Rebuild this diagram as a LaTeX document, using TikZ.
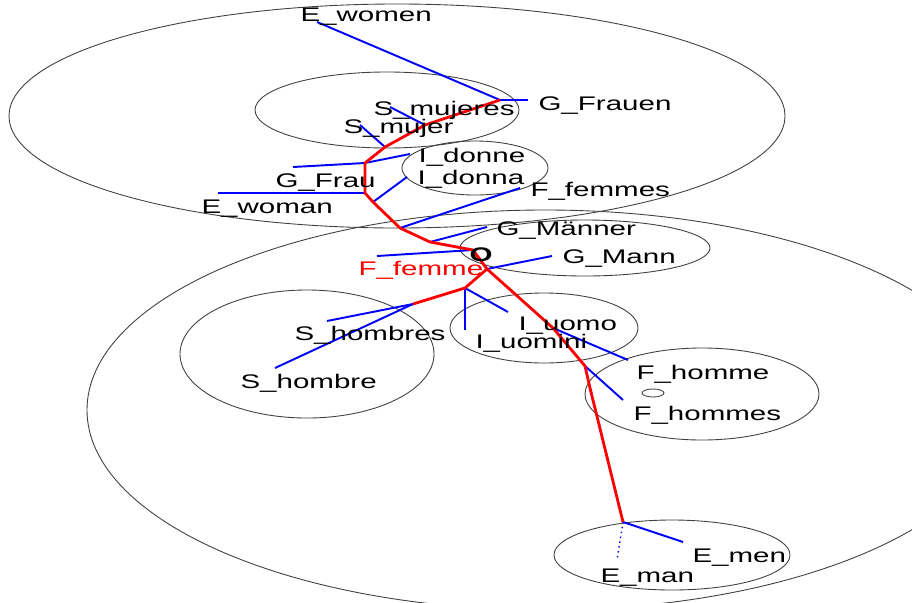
\documentclass[tikz,border=0pt]{standalone}
\usepackage{fontspec}
\setmainfont{Liberation Sans}

\begin{document}
\begin{tikzpicture}[x=0.02cm, y=-0.02cm]
                \tikzstyle{ring} = [draw=black!75, line width=0.5pt]
                \tikzstyle{redline} = [draw=red, line width=1.6pt, line join=round]
                \tikzstyle{leaf} = [draw=blue, line width=1.1pt]
                \tikzstyle{word} = [anchor=base west, inner sep=0pt, font=\fontsize{11.2}{13}\selectfont, xscale=1.5, transform shape]

                \useasboundingbox (0,0) rectangle (912,602);
                \clip (0,0) rectangle (912,602);
                \fill[white] (0,0) rectangle (912,602);

                % clusters
                \draw[ring] (397,116) ellipse (388 and 112);
                \draw[ring] (545,410) ellipse (458 and 200);
                \draw[ring] (387,110) ellipse (132 and 38);
                \draw[ring] (475,168) ellipse (73 and 27);
                \draw[ring] (585,248) ellipse (125 and 28);
                \draw[ring] (307,354) ellipse (127 and 64);
                \draw[ring] (544,328) ellipse (94 and 35);
                \draw[ring] (702,394) ellipse (117 and 46);
                \draw[ring] (653,393) ellipse (11 and 4);
                \draw[ring] (672,555) ellipse (118 and 35);

                % inner points of the tree
                \coordinate (frauen) at (500,100);
                \coordinate (mujeres) at (425,125);
                \coordinate (mujer) at (385,147);
                \coordinate (frau) at (365,163);
                \coordinate (woman) at (365,193);
                \coordinate (donna) at (373,202);
                \coordinate (femmes) at (400,228);
                \coordinate (maenner) at (430,242);
                \coordinate (root) at (473,250);
                \coordinate (mann) at (487,269);
                \coordinate (uomo) at (465,288);
                \coordinate (hombre) at (413,304);
                \coordinate (homme) at (553,328);
                \coordinate (hommes) at (585,366);
                \coordinate (bend) at (590,388);
                \coordinate (men) at (623,522);

                % tips
                \coordinate (t-ewomen) at (317,22);
                \coordinate (t-gfrauen) at (528,100);
                \coordinate (t-smujeres) at (390,107);
                \coordinate (t-smujer) at (360,125);
                \coordinate (t-gfrau) at (293,167);
                \coordinate (t-idonne) at (410,154);
                \coordinate (t-ewoman) at (218,193);
                \coordinate (t-idonna) at (407,177);
                \coordinate (t-ffemmes) at (520,188);
                \coordinate (t-gmaenner) at (487,227);
                \coordinate (t-ffemme) at (377,256);
                \coordinate (t-gmann) at (552,256);
                \coordinate (t-iuomo) at (508,312);
                \coordinate (t-iuomini) at (465,330);
                \coordinate (t-shombres) at (327,321);
                \coordinate (t-shombre) at (275,368);
                \coordinate (t-fhomme) at (628,360);
                \coordinate (t-fhommes) at (623,400);
                \coordinate (t-emen) at (683,542);
                \coordinate (t-eman) at (617,560);

                \draw [leaf] (frauen) -- (t-ewomen);
                \draw [leaf] (frauen) -- (t-gfrauen);
                \draw [leaf] (mujeres) -- (t-smujeres);
                \draw [leaf] (mujer) -- (t-smujer);
                \draw [leaf] (frau) -- (t-gfrau);
                \draw [leaf] (frau) -- (t-idonne);
                \draw [leaf] (woman) -- (t-ewoman);
                \draw [leaf] (donna) -- (t-idonna);
                \draw [leaf] (femmes) -- (t-ffemmes);
                \draw [leaf] (maenner) -- (t-gmaenner);
                \draw [leaf] (root) -- (t-ffemme);
                \draw [leaf] (mann) -- (t-gmann);
                \draw [leaf] (uomo) -- (t-iuomo);
                \draw [leaf] (uomo) -- (t-iuomini);
                \draw [leaf] (hombre) -- (t-shombres);
                \draw [leaf] (hombre) -- (t-shombre);
                \draw [leaf] (homme) -- (t-fhomme);
                \draw [leaf] (hommes) -- (t-fhommes);
                \draw [leaf] (men) -- (t-emen);
                \draw [draw=blue, line width=0.8pt, dotted] (men) -- (t-eman);

                \draw [redline] (frauen) -- (mujeres) -- (mujer) -- (frau) -- (woman) -- (donna) -- (femmes) -- (maenner) -- (root) -- (mann) -- (homme) -- (hommes) -- (bend) -- (men);
                \draw [redline] (mann) -- (uomo) -- (hombre);

                % labels
                \node (ewomen) [word] at (300,21) {E\_women};
                \node (gfrauen) [word] at (538,110) {G\_Frauen};
                \node (smujeres) [word] at (373,115) {S\_mujeres};
                \node (smujer) [word] at (343,133) {S\_mujer};
                \node (idonne) [word] at (418,162) {I\_donne};
                \node (idonna) [word] at (417,184) {I\_donna};
                \node (gfrau) [word] at (275,187) {G\_Frau};
                \node (ewoman) [word] at (201,213) {E\_woman};
                \node (ffemmes) [word] at (530,196) {F\_femmes};
                \node (gmaenner) [word] at (496,235) {G\_Männer};
                \node (gmann) [word] at (562,263) {G\_Mann};
                \node (o) [word, font=\fontsize{11.2}{13}\selectfont\bfseries] at (469,261) {O};
                \node (ffemme) [word, text=red] at (358,275) {F\_femme};
                \node (shombres) [word] at (294,340) {S\_hombres};
                \node (shombre) [word] at (240,388) {S\_hombre};
                \node (iuomo) [word] at (518,330) {I\_uomo};
                \node (iuomini) [word] at (475,348) {I\_uomini};
                \node (fhomme) [word] at (636,379) {F\_homme};
                \node (fhommes) [word] at (633,420) {F\_hommes};
                \node (emen) [word] at (692,562) {E\_men};
                \node (eman) [word] at (600,582) {E\_man};
            \end{tikzpicture}
\end{document}
